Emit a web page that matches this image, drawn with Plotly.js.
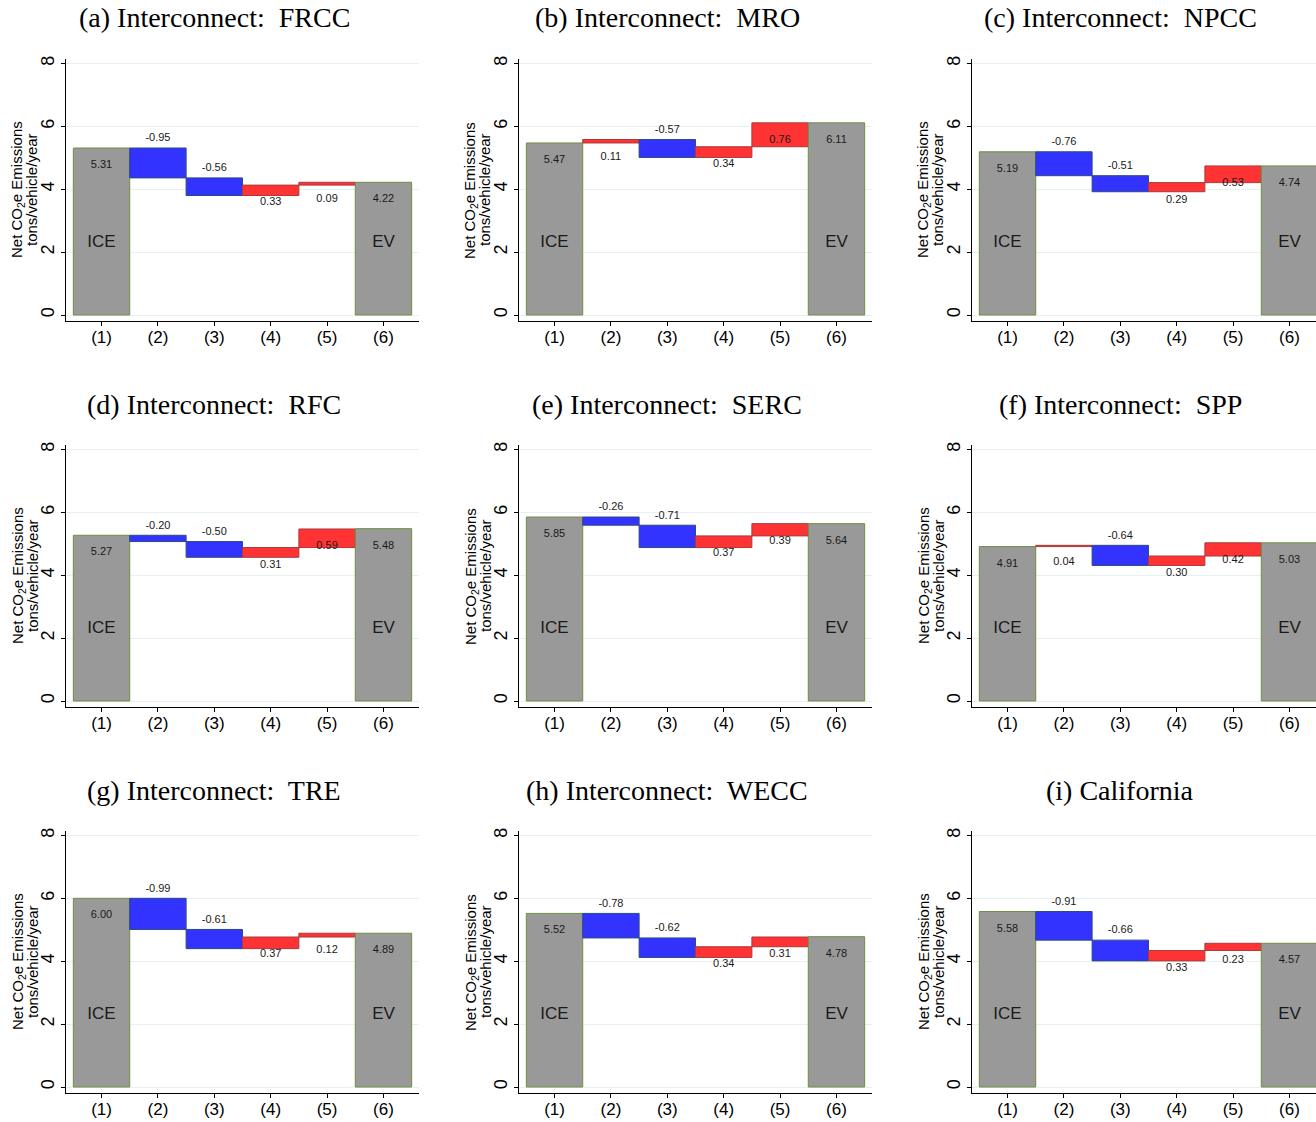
<!DOCTYPE html>
<html><head><meta charset="utf-8">
<script src="https://cdn.plot.ly/plotly-3.0.1.min.js"></script>
<style>html,body{margin:0;padding:0;background:#fff;overflow:hidden}</style>
</head><body><div id="chart" style="width:1316px;height:1122px"></div>
<script>
// ---- data ----
const panelTitles = ["(a) Interconnect:  FRCC","(b) Interconnect:  MRO","(c) Interconnect:  NPCC",
  "(d) Interconnect:  RFC","(e) Interconnect:  SERC","(f) Interconnect:  SPP",
  "(g) Interconnect:  TRE","(h) Interconnect:  WECC","(i) California"];
const stepLabels = ["(1)","(2)","(3)","(4)","(5)","(6)"];
const iceValues = [5.31,5.47,5.19,5.27,5.85,4.91,6.00,5.52,5.58];
const change2   = [-0.95,0.11,-0.76,-0.20,-0.26,0.04,-0.99,-0.78,-0.91];
const change3   = [-0.56,-0.57,-0.51,-0.50,-0.71,-0.64,-0.61,-0.62,-0.66];
const change4   = [0.33,0.34,0.29,0.31,0.37,0.30,0.37,0.34,0.33];
const change5   = [0.09,0.76,0.53,0.59,0.39,0.42,0.12,0.31,0.23];
const evValues  = [4.22,6.11,4.74,5.48,5.64,5.03,4.89,4.78,4.57];
const endLabels = ["ICE","EV"];
const yTicks = [0,2,4,6,8];

// ---- styles ----
const W = 1316, H = 1122;
const colGray = "#999999", colBlue = "#3333ff", colRed = "#ff3333";
const lineGray = "#6f8f3f", lineBlue = "#2b4b7b", lineRed = "#a83a3a";
const sans = "Liberation Sans, Arial, sans-serif";
const serif = "Liberation Serif, Times New Roman, serif";

const traces = [];
const layout = {
  width: W, height: H, margin: {l:0,r:0,t:0,b:0},
  paper_bgcolor: "#fff", plot_bgcolor: "#fff",
  showlegend: false, annotations: []
};

for (let p = 0; p < 9; p++) {
  const c = p % 3, r = Math.floor(p / 3);
  const ax = p === 0 ? "" : String(p + 1);
  const steps = [change2[p], change3[p], change4[p], change5[p]];
  const xs = [1,2,3,4,5,6];
  const bases = [0], heights = [iceValues[p]], colors = [colGray], lcols = [lineGray];
  const labY = [], labT = [];
  labY.push(iceValues[p] - 0.55); labT.push(iceValues[p].toFixed(2));
  let cum = iceValues[p];
  steps.forEach(v => {
    if (v < 0) {
      bases.push(cum + v); heights.push(-v); colors.push(colBlue); lcols.push(lineBlue);
      labY.push(cum + 0.30);
    } else {
      bases.push(cum); heights.push(v); colors.push(colRed); lcols.push(lineRed);
      labY.push(cum + v - 0.55);
    }
    labT.push(v.toFixed(2));
    cum += v;
  });
  bases.push(0); heights.push(evValues[p]); colors.push(colGray); lcols.push(lineGray);
  labY.push(evValues[p] - 0.55); labT.push(evValues[p].toFixed(2));

  traces.push({
    type: "bar", x: xs, y: heights, base: bases, width: 1,
    marker: {color: colors, line: {color: lcols, width: 1}},
    xaxis: "x" + ax, yaxis: "y" + ax, hoverinfo: "skip"
  });
  traces.push({
    type: "scatter", mode: "text", x: xs, y: labY, text: labT,
    textfont: {family: sans, size: 11, color: "#1a1a1a"},
    textposition: "middle center", cliponaxis: false,
    xaxis: "x" + ax, yaxis: "y" + ax, hoverinfo: "skip"
  });
  traces.push({
    type: "scatter", mode: "text", x: [1,6], y: [2.3,2.3], text: endLabels,
    textfont: {family: sans, size: 17, color: "#1a1a1a"},
    textposition: "middle center",
    xaxis: "x" + ax, yaxis: "y" + ax, hoverinfo: "skip"
  });

  const left = 66 + 453 * c;
  const right = Math.min(419 + 453 * c, W);
  const pxPerUnit = 353 / 6.26;
  const xr = [0.37, 0.37 + (right - left) / pxPerUnit];
  const top = 59 + 386 * r, bottom = 321 + 386 * r;

  layout["xaxis" + ax] = {
    domain: [left / W, right / W], range: xr, anchor: "y" + ax,
    tickvals: xs, ticktext: stepLabels, ticks: "outside", ticklen: 4, tickcolor: "#000",
    ticklabelstandoff: -3,
    showline: true, linecolor: "#000", linewidth: 1, showgrid: false, zeroline: false,
    tickfont: {family: sans, size: 17, color: "#000"}, fixedrange: true
  };
  layout["yaxis" + ax] = {
    domain: [1 - bottom / H, 1 - top / H], range: [-0.19, 8.14], anchor: "x" + ax,
    tickvals: yTicks, tickangle: -90, ticks: "outside", ticklen: 4, tickcolor: "#000",
    showline: true, linecolor: "#000", linewidth: 1, showgrid: true, gridcolor: "#e6f0f1",
    gridwidth: 1, zeroline: false,
    tickfont: {family: sans, size: 18, color: "#000"}, fixedrange: true
  };

  layout.annotations.push({
    xref: "paper", yref: "paper", x: (214 + 453 * c) / W, y: 1 - (18 + 386 * r) / H,
    xanchor: "center", yanchor: "middle", showarrow: false, text: panelTitles[p],
    font: {family: serif, size: 28, color: "#000"}
  });
  const yc = 1 - ((top + bottom) / 2) / H;
  layout.annotations.push({
    xref: "paper", yref: "paper", x: (18 + 453 * c) / W, y: yc,
    xanchor: "center", yanchor: "middle", showarrow: false, textangle: -90,
    text: "Net CO<sub>2</sub>e Emissions", font: {family: sans, size: 15, color: "#000"}
  });
  layout.annotations.push({
    xref: "paper", yref: "paper", x: (32 + 453 * c) / W, y: yc,
    xanchor: "center", yanchor: "middle", showarrow: false, textangle: -90,
    text: "tons/vehicle/year", font: {family: sans, size: 15, color: "#000"}
  });
}

Plotly.newPlot("chart", traces, layout, {displayModeBar: false, staticPlot: true});
</script></body></html>
